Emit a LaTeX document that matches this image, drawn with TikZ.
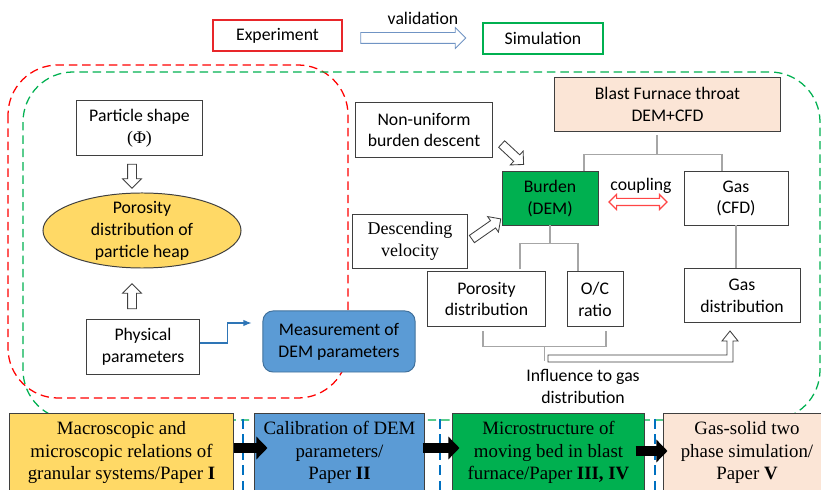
\documentclass[tikz,border=0pt]{standalone}
\usepackage{fontspec}
\setmainfont{Carlito}
\newfontfamily\serifrm{Liberation Serif}
\usetikzlibrary{shapes.geometric,shapes.arrows,arrows.meta,calc}
\definecolor{expred}{HTML}{E8262A}
\definecolor{simgreen}{HTML}{00B050}
\definecolor{heapyellow}{HTML}{FFD966}
\definecolor{demblue}{HTML}{5B9BD5}
\definecolor{demedge}{HTML}{41719C}
\definecolor{throatpeach}{HTML}{FBE5D6}
\definecolor{treegray}{HTML}{A6A6A6}
\definecolor{gapblue}{HTML}{0070C0}
\definecolor{edgegray}{HTML}{3F3F3F}
\definecolor{valblue}{HTML}{7094C4}
\definecolor{couplered}{HTML}{FF4545}
\definecolor{linkblue}{HTML}{2E75B6}

\begin{document}
\begin{tikzpicture}[x=0.025cm, y=-0.025cm,
	font=\fontsize{12.6}{15.6}\selectfont,
	box/.style={draw=edgegray, line width=0.7pt, fill=white, align=center, inner sep=0pt},
	paperbox/.style={box, font=\serifrm\fontsize{13.4}{15.8}\selectfont, minimum height=1.925cm},
	hollow/.style={single arrow, draw=edgegray, fill=white, line width=0.6pt, inner xsep=0pt, inner ysep=0.1cm, single arrow head extend=0.125cm, single arrow tip angle=90, sloped, allow upside down},
	tree/.style={draw=treegray, line width=0.8pt},
	zone/.style={dash pattern=on 6pt off 3.5pt, line width=0.9pt, rounded corners=1.25cm},
	block/.style={line width=0.25cm, -{Triangle[length=0.275cm, width=0.55cm]}},
	gapline/.style={gapblue, line width=1.4pt, dash pattern=on 7pt off 4pt}
	]
	\useasboundingbox (0,0) rectangle (821,490);
	\clip (0,0) rectangle (821,490);
	\draw[zone, red] (8,65) rectangle (348,398);
	\draw[zone, simgreen] (23,72) rectangle (820,420);

	\node[box, draw=expred, line width=1pt, minimum width=3.225cm, minimum height=0.775cm] (exp) at (277.5,35.5) {Experiment};
	\node[box, draw=simgreen, line width=1pt, minimum width=3cm, minimum height=0.775cm] (sim) at (543,38.5) {Simulation};
	\path ($(exp.east)+(16,2.5)$) -- node[hollow, draw=valblue, minimum height=2.625cm, inner ysep=0.125cm] {} ($(sim.west)+(-20,-0.5)$);
	\node (val) at (423,18) {validation};

	\node[box, minimum width=3.125cm, minimum height=1.35cm] (pshape) at (139.5,128) {Particle shape\\{\serifrm(Φ)}};
	\node[ellipse, draw=edgegray, line width=0.7pt, fill=heapyellow, minimum width=4.95cm, minimum height=1.875cm, inner sep=0pt] (heap) at (142,230.5) {};
	\node[align=center] (heaptext) at (heap) {Porosity\\distribution of\\particle heap};
	\node[box, minimum width=2.8cm, minimum height=1.35cm] (phys) at (143,347) {Physical\\parameters};
	\node[box, draw=demedge, fill=demblue, rounded corners=0.25cm, minimum width=3.8cm, minimum height=1.525cm] (meas) at (339,341.5) {Measurement of\\DEM parameters};
	\path ($(pshape.south)+(-7.5,7)$) -- node[hollow, minimum height=0.6cm] {} ($(heap.north)+(-10,-7)$);
	\path ($(phys.north)+(-11,-9)$) -- node[hollow, minimum height=0.625cm] {} ($(heap.south)+(-10,18)$);
	\draw[linkblue, line width=0.8pt, -{Latex[length=2mm, width=1.6mm]}] ($(phys.east)+(0,-4)$) -- ++(28,0) |- ($(meas.west)+(-11,-18.5)$);

	\node[box, minimum width=3.4cm, minimum height=1.35cm] (nonu) at (424,130) {Non-uniform\\burden descent};
	\node[box, fill=throatpeach, minimum width=5.625cm, minimum height=1.325cm] (throat) at (667.5,104.5) {Blast Furnace throat\\DEM+CFD};
	\node[box, fill=simgreen, minimum width=2.4cm, minimum height=1.325cm] (burden) at (550,198.5) {Burden\\(DEM)};
	\node[box, minimum width=2.6cm, minimum height=1.325cm] (gas) at (736,198.5) {Gas\\(CFD)};
	\node[box, font=\serifrm\fontsize{12.8}{15.6}\selectfont, minimum width=2.85cm, minimum height=1.325cm] (desc) at (410,241.5) {Descending\\velocity};
	\node[box, minimum width=2.925cm, minimum height=1.35cm] (poro) at (486.5,299) {Porosity\\distribution};
	\node[box, minimum width=1.4cm, minimum height=1.35cm] (oc) at (595,299) {O/C\\ratio};
	\node[box, minimum width=2.9cm, minimum height=1.325cm] (gasd) at (742,295.5) {Gas\\distribution};

	\path ($(nonu.east)+(8,13)$) -- node[hollow, minimum height=0.75cm] {} ($(burden.north west)+(20,-9)$);
	\path ($(desc.east)+(3,-1.5)$) -- node[hollow, minimum height=0.88cm] {} ($(burden.south west)+(-3,-5)$);
	\path ($(burden.east)+(11,3.5)$) -- node[double arrow, draw=couplered, fill=white, line width=0.8pt, inner xsep=0pt, inner ysep=0.075cm, minimum height=1.45cm, double arrow head extend=0.1cm, double arrow tip angle=90, sloped] {} ($(gas.west)+(-17,3.5)$);
	\node (coup) at (641,186) {coupling};

	\coordinate (tk) at ($(throat.south)+(-10.5,23)$);
	\draw[tree] ($(throat.south)+(-10.5,4)$) -- (tk);
	\draw[tree] ($(burden.north)+(34,0)$) |- (tk) -| ($(gas.north)+(-14,0)$);
	\coordinate (bk) at ($(burden.south)+(0,18)$);
	\draw[tree] (burden.south) -- (bk);
	\draw[tree] ($(poro.north)+(33.5,-2)$) |- (bk) -| ($(oc.north)+(-17,0)$);
	\draw[tree] (gas.south) -- (gas.south |- gasd.north);
	\draw[tree] ($(poro.south)+(-3.5,5)$) |- coordinate[pos=0.75] (bm) ($(oc.south)+(11,20)$) -- ($(oc.south)+(11,5)$);
	\draw[tree] (bm) -- ++(0,15);
	\draw[draw=edgegray, line width=0.6pt, fill=white] (548,355) -- (727,355) -- (727,341) -- (722,341) -- (730,331) -- (738,341) -- (733,341) -- (733,362) -- (548,362) -- cycle;
	\node[align=center] (infl) at (583,386.5) {Influence to gas\\distribution};

	\node[paperbox, fill=heapyellow, minimum width=5.575cm] (p1) at (121.5,452.5) {Macroscopic and\\microscopic relations of\\granular systems/Paper \textbf{I}};
	\node[paperbox, fill=demblue, minimum width=4.225cm] (p2) at (339.5,452.5) {Calibration of DEM\\parameters/\\Paper \textbf{II}};
	\node[paperbox, fill=simgreen, minimum width=4.775cm] (p3) at (548.5,452.5) {Microstructure of\\moving bed in blast\\furnace/Paper \textbf{III, IV}};
	\node[paperbox, fill=throatpeach, minimum width=4.15cm] (p4) at (747,452.5) {Gas-solid two\\phase simulation/\\Paper \textbf{V}};
	\draw[gapline] (243,419) -- (243,490);
	\draw[gapline] (440,419) -- (440,490);
	\draw[gapline] (655,419) -- (655,490);
	\draw[block] ($(p1.east)+(0,-4.5)$) -- ($(p2.west)+(13,-4.5)$);
	\draw[block] ($(p2.east)+(-2,-4.5)$) -- ($(p3.west)+(7,-4.5)$);
	\draw[block] ($(p3.east)+(-9,-1.5)$) -- ($(p4.west)+(4,-1.5)$);

\end{tikzpicture}
\end{document}
